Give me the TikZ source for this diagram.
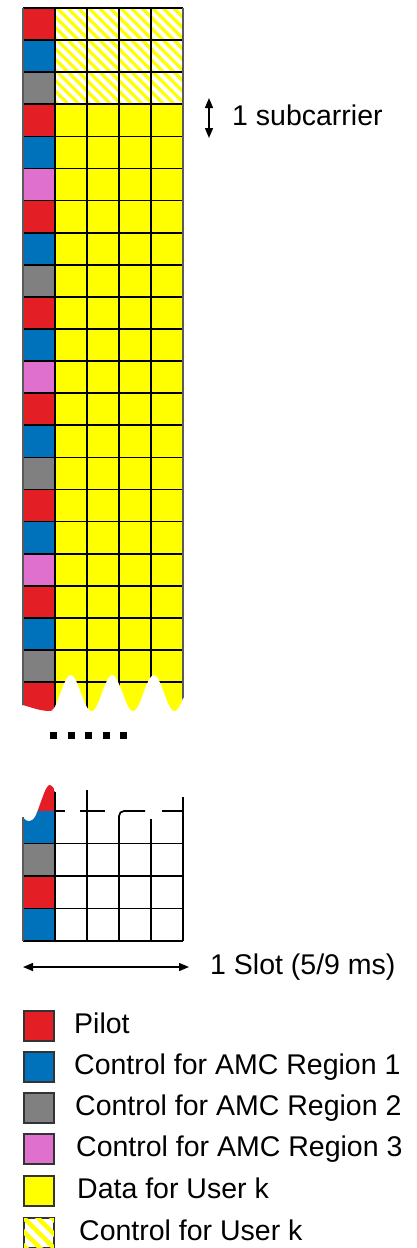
\documentclass[tikz,border=0pt]{standalone}
\usepackage{fontspec}
\setmainfont{Liberation Sans}
\usetikzlibrary{arrows.meta}
\definecolor{cRed}{RGB}{227,30,36}
\definecolor{cBlue}{RGB}{0,114,188}
\definecolor{cGray}{RGB}{128,128,128}
\definecolor{cPink}{RGB}{224,112,206}
\definecolor{cYel}{RGB}{255,255,0}
\definecolor{cEdge}{RGB}{90,90,90}
\begin{document}
\begin{tikzpicture}[x=1pt,y=-1pt,
  gridline/.style={line width=1.7pt,black},
  edgeline/.style={line width=1.7pt,cEdge},
  lbl/.style={font=\fontsize{28.5}{34}\selectfont,inner sep=0pt,anchor=base west},
  legbox/.style={draw=black!80,line width=1.4pt,minimum size=30pt,inner sep=0pt},
  stripe/.style={cYel,line cap=butt},
  dotsq/.style={fill=black,minimum size=7pt,inner sep=0pt},
  dimarrow/.style={line width=1.4pt,{Triangle[length=10pt,width=8pt]}-{Triangle[length=10pt,width=8pt]}}]
\useasboundingbox (0,0) rectangle (417,1248);
\def\rh{32.1}
% ---------- upper grid ----------
\begin{scope}
\clip (20,5) -- (186,5) -- (186,698) -- (183,698)
  -- plot[domain=183:50,samples=150] (\x,{693+18*cos(8.6747*(\x-50))})
  .. controls (40,711) and (30,707) .. (23,705) -- (20,705) -- cycle;
\fill[cYel] (55,8) rectangle (183,730);
\fill[white] (55,8) rectangle (183,{8+3*\rh});
\begin{scope}
\clip (55,8) rectangle (183,{8+3*\rh});
\foreach \c in {-110,-99.4,...,190}
  \draw[stripe,line width=3.2pt] (\c,0) -- (\c+120,120);
\end{scope}
\foreach \i in {0,...,21}{
  \pgfmathtruncatemacro{\m}{mod(\i,6)}
  \ifcase\m \def\cc{cRed}\or \def\cc{cBlue}\or \def\cc{cGray}\or \def\cc{cRed}\or \def\cc{cBlue}\or \def\cc{cPink}\fi
  \fill[\cc] (23,{8+\i*\rh}) rectangle (55,{8+(\i+1)*\rh+(\i==21)*30});
}
\foreach \k in {0,...,21}
  \draw[gridline] (23,{8+\k*\rh}) -- (183,{8+\k*\rh});
\foreach \xx in {55,87,119,151}
  \draw[gridline] (\xx,8) -- (\xx,730);
\draw[edgeline] (23,8) -- (23,730);
\draw[edgeline] (183,8) -- (183,730);
\end{scope}
% ---------- dots ----------
\foreach \xx [count=\n] in {53.5,71,88.5,106,123.5}
  \node[dotsq] (dot\n) at (\xx,735) {};
% ---------- lower grid ----------
\begin{scope}
\clip (23,817) .. controls (27,823) and (32,823) .. (36,815)
  .. controls (42,800) and (46,784) .. (50,785)
  .. controls (53,786) and (55,790) .. (55,792) -- (55,941) -- (23,941) -- cycle;
\fill[cRed] (23,780) rectangle (55,811);
\fill[cBlue] (23,811) rectangle (55,843.5);
\end{scope}
\fill[cGray] (23,843.5) rectangle (55,876);
\fill[cRed] (23,876) rectangle (55,908.5);
\fill[cBlue] (23,908.5) rectangle (55,941);
\foreach \yy in {843.5,876,908.5,941}
  \draw[gridline] (23,\yy) -- (183,\yy);
\draw[gridline] (55,811) -- (65,811);
\draw[gridline] (80,811) -- (105,811);
\draw[gridline,rounded corners=5pt] (119,941) -- (119,811) -- (145,811);
\draw[gridline] (162,811) -- (183,811);
\draw[gridline] (55,792) -- (55,941);
\draw[gridline] (87,790) -- (87,941);
\draw[gridline] (151,941) -- (151,819);
\draw[edgeline] (23,817) -- (23,941);
\draw[gridline] (183,797) -- (183,941);
% ---------- dimension labels ----------
\coordinate (sca) at (209,98);
\coordinate (scb) at (209,138);
\draw[dimarrow] (sca) -- (scb);
\node[lbl] (sctext) at (232,125) {1 subcarrier};
\coordinate (sla) at (23,967);
\coordinate (slb) at (189,967);
\draw[dimarrow] (sla) -- (slb);
\node[lbl] (sltext) at (210,974) {1 Slot (5/9 ms)};
% ---------- legend ----------
\node[legbox,fill=cRed]  (lg1) at (39,1026) {};
\node[legbox,fill=cBlue] (lg2) at (39,1067) {};
\node[legbox,fill=cGray] (lg3) at (39,1108) {};
\node[legbox,fill=cPink] (lg4) at (39,1149) {};
\node[legbox,fill=cYel]  (lg5) at (39,1191) {};
\node[legbox,fill=white] (lg6) at (39,1233) {};
\begin{scope}
\clip (lg6.south west) rectangle (lg6.north east);
\foreach \c in {-40,-26,...,60}
  \draw[stripe,line width=4.5pt] (\c,1210) -- (\c+50,1260);
\end{scope}
\draw[black!80,line width=1.4pt] (lg6.south west) rectangle (lg6.north east);
\node[lbl] (lt1) at (74,1033) {Pilot};
\node[lbl] (lt2) at (74,1074) {Control for AMC Region 1};
\node[lbl] (lt3) at (75,1115) {Control for AMC Region 2};
\node[lbl] (lt4) at (76,1156) {Control for AMC Region 3};
\node[lbl] (lt5) at (77,1198) {Data for User k};
\node[lbl] (lt6) at (79,1240) {Control for User k};
\end{tikzpicture}
\end{document}
